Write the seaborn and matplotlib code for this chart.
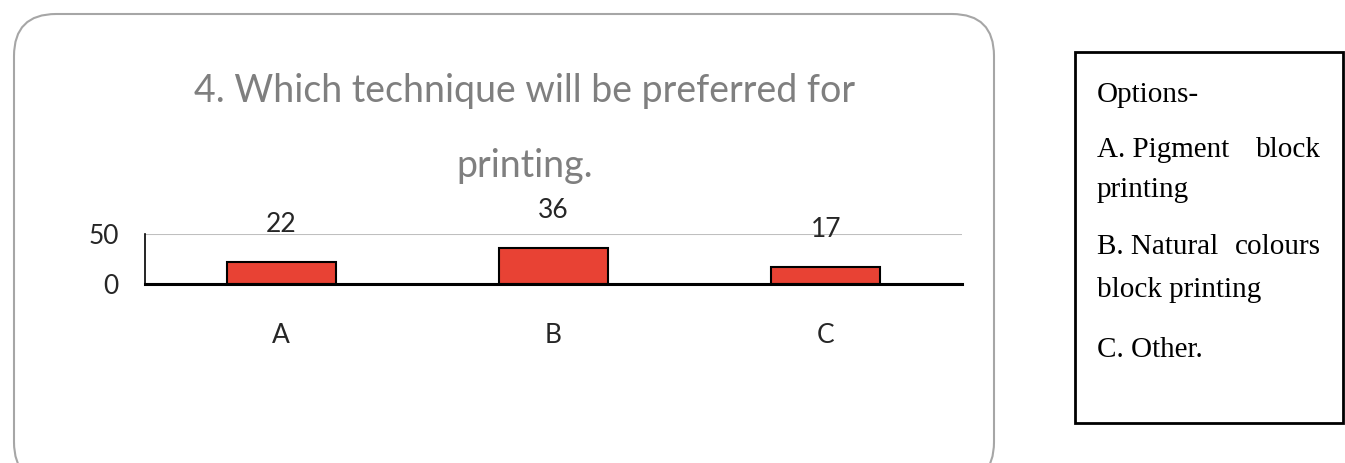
import matplotlib
matplotlib.use("Agg")
import matplotlib.pyplot as plt
import seaborn as sns
import pandas as pd
from matplotlib.patches import FancyBboxPatch, Rectangle

categories = ["A", "B", "C"]
counts = [22, 36, 17]
y_ticks = [0, 50]
title_lines = ["4. Which technique will be preferred for", "printing."]
option_head = "Options-"
option_lines = [
    ("A. Pigment", "block"),
    ("printing", ""),
    ("B. Natural", "colours"),
    ("block printing", ""),
    ("C. Other.", ""),
]

sns.set_style("white")
plt.rcParams["font.family"] = ["Lato", "DejaVu Sans"]

fig = plt.figure(figsize=(13.45, 4.63), dpi=100)

# background layer in pixel coordinates (rounded frame + options box)
bg = fig.add_axes([0, 0, 1, 1], zorder=0)
bg.set_xlim(0, 1345)
bg.set_ylim(463, 0)
bg.axis("off")
bg.add_patch(FancyBboxPatch((14, 14), 980, 470,
                            boxstyle="round,pad=0,rounding_size=42",
                            facecolor="white", edgecolor="#a6a6a6", linewidth=1.5))
bg.add_patch(Rectangle((1075, 52), 268, 371, facecolor="white",
                       edgecolor="black", linewidth=2))

serif = ["Liberation Serif", "DejaVu Serif"]
bg.text(1097, 95, option_head, fontsize=21, family=serif, va="center", ha="left", color="black")
ys = [150, 190, 247, 290, 350]
for (left, right), y in zip(option_lines, ys):
    bg.text(1097, y, left, fontsize=21, family=serif, va="center", ha="left", color="black")
    if right:
        bg.text(1321, y, right, fontsize=21, family=serif, va="center", ha="right", color="black")

for line, y in zip(title_lines, [91, 166]):
    bg.text(525, y, line, fontsize=27, color="#7f7f7f", ha="center", va="center")

# the bar chart itself
ax = fig.add_axes([145 / 1345, (463 - 284) / 463, (962 - 145) / 1345, 50 / 463], zorder=1)
ax.patch.set_alpha(0)
df = pd.DataFrame({"option": categories, "count": counts})
sns.barplot(data=df, x="option", y="count", color="#e84234", width=0.4,
            edgecolor="black", linewidth=1.5, saturation=1, ax=ax)
ax.set_ylim(0, 50)
ax.set_xlim(-0.5, 2.5)
ax.set_yticks(y_ticks)
ax.set_xlabel("")
ax.set_ylabel("")
ax.yaxis.grid(True, color="#bfbfbf", linewidth=1.5)
ax.set_axisbelow(True)
for s in ["top", "right"]:
    ax.spines[s].set_visible(False)
ax.spines["left"].set_color("black")
ax.spines["left"].set_linewidth(1.2)
ax.spines["bottom"].set_color("black")
ax.spines["bottom"].set_linewidth(2.2)
ax.tick_params(axis="y", length=0, pad=19, labelsize=19, labelcolor="#262626")
ax.tick_params(axis="x", length=0, pad=28, labelsize=19, labelcolor="#262626")

for p, v in zip(ax.patches, counts):
    ax.annotate(str(v), (p.get_x() + p.get_width() / 2, p.get_height()),
                xytext=(0, 27), textcoords="offset points", ha="center",
                va="center", fontsize=19, color="#262626", annotation_clip=False)

fig.savefig("out.png", dpi=100)
